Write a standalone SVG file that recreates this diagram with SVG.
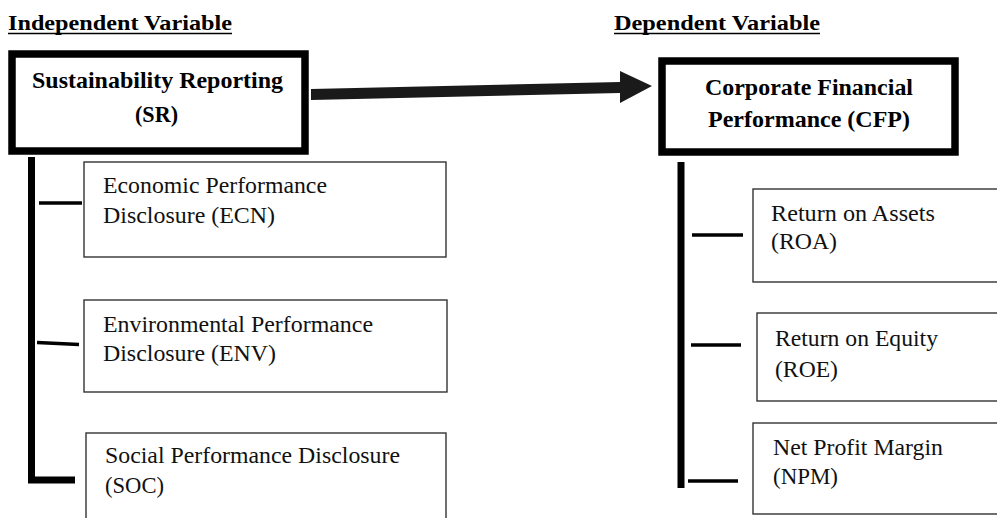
<svg xmlns="http://www.w3.org/2000/svg" width="997" height="518" viewBox="0 0 997 518">
<style>
.hdr{font-family:"Liberation Serif","Times New Roman",serif;font-weight:bold;font-size:21.5px;fill:#000}
.main{font-family:"Liberation Serif","Times New Roman",serif;font-weight:bold;font-size:22.5px;fill:#000}
.sub{font-family:"Liberation Serif","Times New Roman",serif;font-size:23px;fill:#111}
.mbox{fill:#fff;stroke:#000;stroke-width:7.5}
.sbox{fill:#fff;stroke:#333;stroke-width:1.4}
.bar{stroke:#000;stroke-width:7;fill:none}
.tick{stroke:#000;stroke-width:3.5;fill:none}
.ul{stroke:#000;stroke-width:1.6}
</style>
<rect width="997" height="518" fill="#fff"/>
<g id="headers">
<text class="hdr" x="8" y="30" textLength="224" lengthAdjust="spacingAndGlyphs">Independent Variable</text>
<line class="ul" x1="8" y1="33.5" x2="232" y2="33.5"/>
<text class="hdr" x="614" y="30" textLength="206" lengthAdjust="spacingAndGlyphs">Dependent Variable</text>
<line class="ul" x1="614" y1="33.5" x2="820" y2="33.5"/>
</g>
<g id="connectors">
<polygon points="311,89 620,82 620,71 652,86 620,103 620,93 311,100" fill="#1a1a1a"/>
<path class="bar" d="M31.5,157 V480 H75"/>
<line class="tick" x1="39" y1="203" x2="82" y2="203"/>
<line class="tick" x1="37" y1="342.5" x2="79" y2="344.5"/>
<line class="bar" x1="681" y1="162" x2="681" y2="488"/>
<line class="tick" x1="692" y1="235" x2="743" y2="235"/>
<line class="tick" x1="691" y1="345" x2="741" y2="345"/>
<line class="tick" x1="688" y1="481" x2="738" y2="481"/>
</g>
<g id="SR">
<rect class="mbox" x="12" y="54" width="293" height="97"/>
<text class="main" x="32" y="88" textLength="251" lengthAdjust="spacingAndGlyphs">Sustainability Reporting</text>
<text class="main" x="135" y="122" textLength="43" lengthAdjust="spacingAndGlyphs">(SR)</text>
</g>
<g id="CFP">
<rect class="mbox" x="662" y="61" width="293" height="91"/>
<text class="main" x="705" y="95" textLength="208" lengthAdjust="spacingAndGlyphs">Corporate Financial</text>
<text class="main" x="708" y="127" textLength="202" lengthAdjust="spacingAndGlyphs">Performance (CFP)</text>
</g>
<g id="ECN">
<rect class="sbox" x="84" y="162" width="362" height="95"/>
<text class="sub" x="103" y="193" textLength="224" lengthAdjust="spacingAndGlyphs">Economic Performance</text>
<text class="sub" x="103" y="223" textLength="172" lengthAdjust="spacingAndGlyphs">Disclosure (ECN)</text>
</g>
<g id="ENV">
<rect class="sbox" x="84" y="300" width="363" height="92"/>
<text class="sub" x="103" y="332" textLength="270" lengthAdjust="spacingAndGlyphs">Environmental Performance</text>
<text class="sub" x="103" y="361" textLength="173" lengthAdjust="spacingAndGlyphs">Disclosure (ENV)</text>
</g>
<g id="SOC">
<rect class="sbox" x="86" y="433" width="360" height="100"/>
<text class="sub" x="105" y="463" textLength="295" lengthAdjust="spacingAndGlyphs">Social Performance Disclosure</text>
<text class="sub" x="105" y="493" textLength="59" lengthAdjust="spacingAndGlyphs">(SOC)</text>
</g>
<g id="ROA">
<rect class="sbox" x="753" y="189" width="260" height="93"/>
<text class="sub" x="771" y="221" textLength="164" lengthAdjust="spacingAndGlyphs">Return on Assets</text>
<text class="sub" x="771" y="249" textLength="66" lengthAdjust="spacingAndGlyphs">(ROA)</text>
</g>
<g id="ROE">
<rect class="sbox" x="757" y="313" width="260" height="88"/>
<text class="sub" x="775" y="346" textLength="163" lengthAdjust="spacingAndGlyphs">Return on Equity</text>
<text class="sub" x="775" y="377" textLength="63" lengthAdjust="spacingAndGlyphs">(ROE)</text>
</g>
<g id="NPM">
<rect class="sbox" x="753" y="423" width="260" height="91"/>
<text class="sub" x="773" y="455" textLength="170" lengthAdjust="spacingAndGlyphs">Net Profit Margin</text>
<text class="sub" x="773" y="484" textLength="65" lengthAdjust="spacingAndGlyphs">(NPM)</text>
</g>
</svg>
